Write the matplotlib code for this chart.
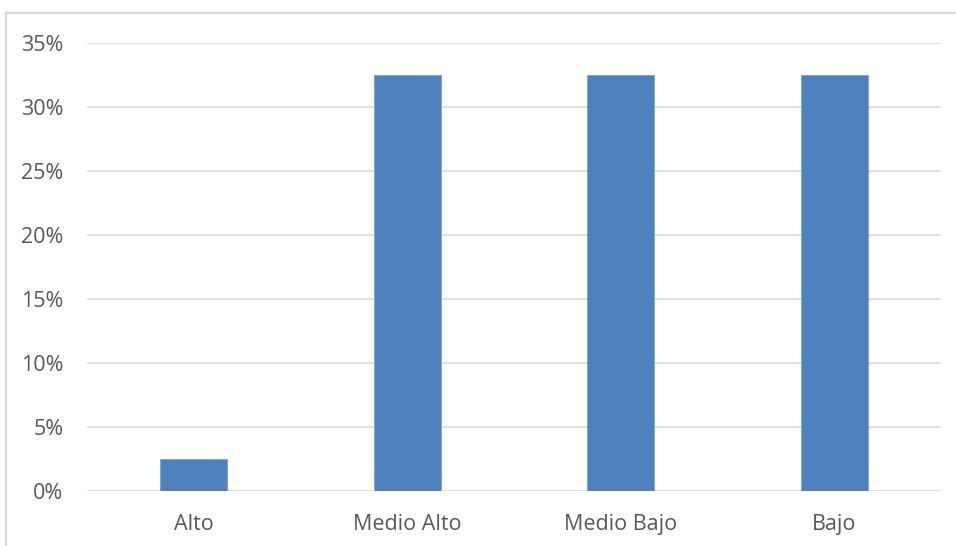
import matplotlib.pyplot as plt
from matplotlib.patches import Rectangle
from matplotlib.ticker import PercentFormatter

# datos
categorias = ['Alto', 'Medio Alto', 'Medio Bajo', 'Bajo']
valores = [0.025, 0.325, 0.325, 0.325]
ticks_y = [0, 0.05, 0.10, 0.15, 0.20, 0.25, 0.30, 0.35]

plt.rcParams['font.family'] = ['Open Sans', 'DejaVu Sans']

W, H = 956, 546
fig = plt.figure(figsize=(W / 100, H / 100), dpi=100)
ax = fig.add_axes([87 / W, (H - 491) / H, (941 - 87) / W, (491 - 43) / H])

# borde del grafico (se sale por la derecha y abajo)
fig.patches.append(Rectangle((5.5 / W, -0.1), 1.2, (H - 13) / H + 0.1,
                             transform=fig.transFigure, fill=False,
                             edgecolor='#d9d9d9', linewidth=1.5))

x = range(len(categorias))
ax.bar(x, valores, width=0.313, color='#4f81bd', edgecolor='#7aa0d0',
       linewidth=0.6, zorder=3)

ax.set_xlim(-0.5, len(categorias) - 0.5)
ax.set_ylim(0, 0.35)
ax.set_yticks(ticks_y)
ax.yaxis.set_major_formatter(PercentFormatter(1.0, decimals=0))
ax.set_xticks(list(x))
ax.set_xticklabels(categorias)

ax.grid(axis='y', color='#d9d9d9', linewidth=1.2, zorder=0)
for s in ax.spines.values():
    s.set_visible(False)
ax.tick_params(axis='both', length=0, labelsize=15.5, labelcolor='#595959')
ax.tick_params(axis='y', pad=17)
ax.tick_params(axis='x', pad=16.5)

fig.savefig('out.png', dpi=100)
